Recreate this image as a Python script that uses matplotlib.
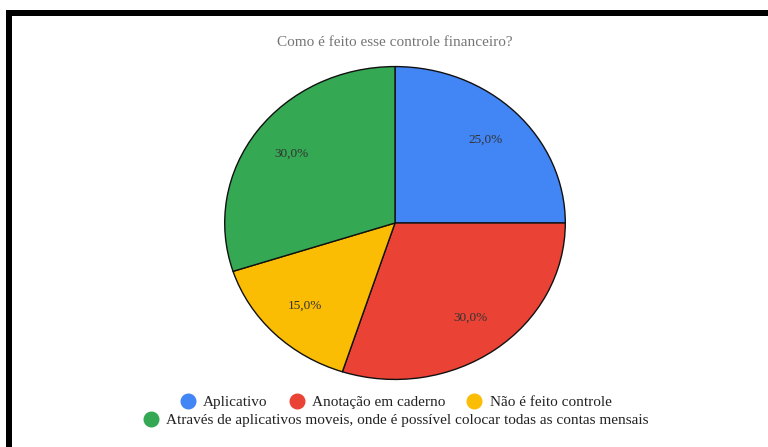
import matplotlib.pyplot as plt
from matplotlib.lines import Line2D
from matplotlib.patches import Rectangle

labels = ["Aplicativo", "Anotação em caderno", "Não é feito controle",
          "Através de aplicativos moveis, onde é possível colocar todas as contas mensais"]
values = [25, 30, 15, 30]
colors = ["#4285F4", "#EA4335", "#FBBC04", "#34A853"]

plt.rcParams['font.family'] = ['Liberation Serif', 'DejaVu Serif']

fig = plt.figure(figsize=(7.68, 4.47), dpi=100)
W, H = 768, 447

# pie is slightly stretched horizontally in the original
cx, cy, rx, ry = 395, 223, 172, 158
ax = fig.add_axes([(cx - rx) / W, (H - cy - ry) / H, 2 * rx / W, 2 * ry / H])
wedges, texts, autotexts = ax.pie(
    values, colors=colors, startangle=90, counterclock=False,
    autopct=lambda p: f"{p:.1f}%".replace(".", ","), pctdistance=0.75,
    wedgeprops=dict(edgecolor="#111111", linewidth=1.0),
    textprops=dict(fontsize=9.5, color="#333333"))
ax.set_aspect('auto')
ax.set_xlim(-1.01, 1.01)
ax.set_ylim(-1.01, 1.01)

fig.text(cx / W, 1 - 43 / H, "Como é feito esse controle financeiro?",
         ha="center", va="center", fontsize=11, color="#757575")

def handle(c):
    return Line2D([], [], marker="o", linestyle="", markersize=10.5,
                  markerfacecolor=c, markeredgecolor=c)

leg_kw = dict(loc="center", frameon=False, fontsize=11, handlelength=1.0,
              handletextpad=0.5, columnspacing=1.4, labelcolor="#222222")
fig.legend([handle(c) for c in colors[:3]], labels[:3], ncol=3,
           bbox_to_anchor=(396 / W, 1 - 402 / H), **leg_kw)
fig.legend([handle(colors[3])], labels[3:], ncol=1,
           bbox_to_anchor=(396 / W, 1 - 420 / H), **leg_kw)

# black frame on top and left
fig.add_artist(Rectangle((6 / W, 0), 6 / W, 1 - 10 / H, transform=fig.transFigure,
                         facecolor="black", edgecolor="none"))
fig.add_artist(Rectangle((6 / W, 1 - 16 / H), 1, 6 / H, transform=fig.transFigure,
                         facecolor="black", edgecolor="none"))

fig.savefig("out.png", dpi=100)
